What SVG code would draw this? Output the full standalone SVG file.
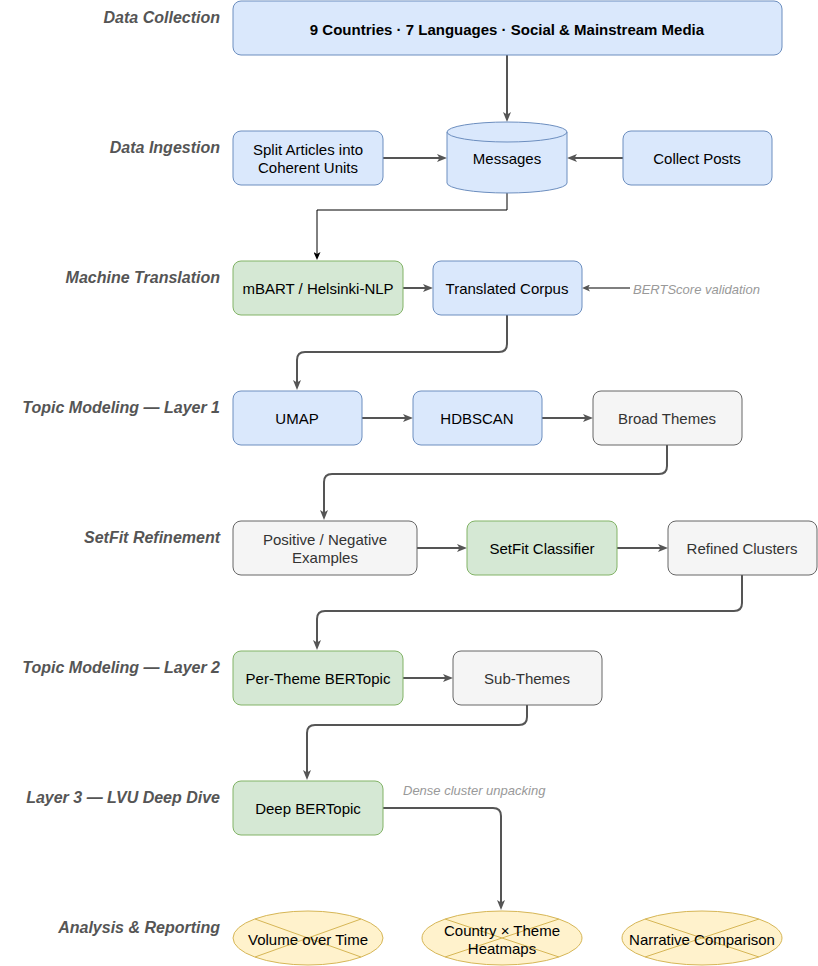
<svg xmlns="http://www.w3.org/2000/svg" width="818" height="966" viewBox="0 0 818 966">
<defs>
<style>
.lbl{font-family:"Liberation Sans",Arial,sans-serif;font-size:16px;font-weight:bold;font-style:italic;fill:#555;text-anchor:end;dominant-baseline:central}
.t{font-family:"Liberation Sans",Arial,sans-serif;font-size:15px;fill:#000;text-anchor:middle;dominant-baseline:central}
.tg{font-family:"Liberation Sans",Arial,sans-serif;font-size:15px;fill:#333;text-anchor:middle;dominant-baseline:central}
.note{font-family:"Liberation Sans",Arial,sans-serif;font-size:13px;font-style:italic;fill:#999;dominant-baseline:central}
.blue{fill:#dae8fc;stroke:#6c8ebf;stroke-width:1}
.green{fill:#d5e8d4;stroke:#82b366;stroke-width:1}
.gray{fill:#f5f5f5;stroke:#666;stroke-width:1}
.yel{fill:#fff2cc;stroke:#d6b656;stroke-width:1}
.c{fill:none;stroke:#555;stroke-width:2}
</style>
<marker id="a" markerUnits="userSpaceOnUse" viewBox="0 0 10 8" markerWidth="10" markerHeight="8" refX="4" refY="4" orient="auto">
<path d="M0,0 L10,4 L0,8 L2.5,4 Z" fill="#555"/>
</marker>
<marker id="b" markerUnits="userSpaceOnUse" viewBox="0 0 8 7" markerWidth="8" markerHeight="7" refX="3" refY="3.5" orient="auto">
<path d="M0,0 L8,3.5 L0,7 L2,3.5 Z" fill="#000"/>
</marker>
<marker id="s" markerUnits="userSpaceOnUse" viewBox="0 0 8 7" markerWidth="8" markerHeight="7" refX="3" refY="3.5" orient="auto">
<path d="M0,0 L8,3.5 L0,7 L2,3.5 Z" fill="#555"/>
</marker>
</defs>
<rect width="818" height="966" fill="#fff"/>

<g id="lanes">
<text class="lbl" x="220" y="17">Data Collection</text>
<text class="lbl" x="220" y="147">Data Ingestion</text>
<text class="lbl" x="220" y="277">Machine Translation</text>
<text class="lbl" x="220" y="407">Topic Modeling — Layer 1</text>
<text class="lbl" x="220" y="537">SetFit Refinement</text>
<text class="lbl" x="220" y="667">Topic Modeling — Layer 2</text>
<text class="lbl" x="220" y="797">Layer 3 — LVU Deep Dive</text>
<text class="lbl" x="220" y="927">Analysis &amp; Reporting</text>
</g>

<g id="connectors">
<path class="c" d="M507,55 V116" marker-end="url(#a)"/>
<path class="c" d="M383,158 H441" marker-end="url(#a)"/>
<path class="c" d="M623,158 H573" marker-end="url(#a)"/>
<path d="M507,193 V210 H317 V255" fill="none" stroke="#000" stroke-width="1" marker-end="url(#b)"/>
<path class="c" d="M403,288 H427" marker-end="url(#a)"/>
<path d="M630,288 H587" fill="none" stroke="#555" stroke-width="1.5" marker-end="url(#s)"/>
<path class="c" d="M507,315 V344 Q507,352 499,352 H305 Q297,352 297,360 V384" marker-end="url(#a)"/>
<path class="c" d="M362,418 H407" marker-end="url(#a)"/>
<path class="c" d="M542,418 H587" marker-end="url(#a)"/>
<path class="c" d="M667,445 V466 Q667,474 659,474 H332 Q324,474 324,482 V514" marker-end="url(#a)"/>
<path class="c" d="M417,548 H461" marker-end="url(#a)"/>
<path class="c" d="M617,548 H662" marker-end="url(#a)"/>
<path class="c" d="M742,575 V603 Q742,611 734,611 H325 Q317,611 317,619 V644" marker-end="url(#a)"/>
<path class="c" d="M403,678 H447" marker-end="url(#a)"/>
<path class="c" d="M527,705 V717 Q527,725 519,725 H315 Q307,725 307,733 V774" marker-end="url(#a)"/>
<path class="c" d="M383,808 H493 Q501,808 501,816 V904" marker-end="url(#a)"/>
</g>

<g id="n-collection">
<rect class="blue" x="233" y="1" width="549" height="54" rx="8"/>
<text class="t" x="507" y="29" font-weight="bold">9 Countries · 7 Languages · Social &amp; Mainstream Media</text>
</g>
<g id="n-split">
<rect class="blue" x="233" y="131" width="150" height="54" rx="8"/>
<text class="t" x="308" y="149">Split Articles into</text>
<text class="t" x="308" y="167">Coherent Units</text>
</g>
<g id="n-messages">
<path class="blue" d="M447,132 A60,10 0 0 1 567,132 V183 A60,10 0 0 1 447,183 Z"/>
<path d="M447,132 A60,10 0 0 0 567,132" fill="none" stroke="#6c8ebf"/>
<text class="t" x="507" y="158">Messages</text>
</g>
<g id="n-collect">
<rect class="blue" x="623" y="131" width="149" height="54" rx="8"/>
<text class="t" x="697" y="158">Collect Posts</text>
</g>
<g id="n-mbart">
<rect class="green" x="233" y="261" width="170" height="54" rx="8"/>
<text class="t" x="318" y="288">mBART / Helsinki-NLP</text>
</g>
<g id="n-translated">
<rect class="blue" x="433" y="261" width="149" height="54" rx="8"/>
<text class="t" x="507" y="288">Translated Corpus</text>
</g>
<g id="n-bertscore">
<text class="note" x="633" y="289">BERTScore validation</text>
</g>
<g id="n-umap">
<rect class="blue" x="233" y="391" width="129" height="54" rx="8"/>
<text class="t" x="297" y="418">UMAP</text>
</g>
<g id="n-hdbscan">
<rect class="blue" x="413" y="391" width="129" height="54" rx="8"/>
<text class="t" x="477" y="418">HDBSCAN</text>
</g>
<g id="n-broad">
<rect class="gray" x="593" y="391" width="149" height="54" rx="8"/>
<text class="tg" x="667" y="418">Broad Themes</text>
</g>
<g id="n-posneg">
<rect class="gray" x="233" y="521" width="184" height="54" rx="8"/>
<text class="tg" x="325" y="539">Positive / Negative</text>
<text class="tg" x="325" y="557">Examples</text>
</g>
<g id="n-setfit">
<rect class="green" x="467" y="521" width="150" height="54" rx="8"/>
<text class="t" x="542" y="548">SetFit Classifier</text>
</g>
<g id="n-refined">
<rect class="gray" x="668" y="521" width="149" height="54" rx="8"/>
<text class="tg" x="742" y="548">Refined Clusters</text>
</g>
<g id="n-pertheme">
<rect class="green" x="233" y="651" width="170" height="54" rx="8"/>
<text class="t" x="318" y="678">Per-Theme BERTopic</text>
</g>
<g id="n-sub">
<rect class="gray" x="453" y="651" width="149" height="54" rx="8"/>
<text class="tg" x="527" y="678">Sub-Themes</text>
</g>
<g id="n-deep">
<rect class="green" x="233" y="781" width="150" height="54" rx="8"/>
<text class="t" x="308" y="808">Deep BERTopic</text>
</g>
<g id="n-dense">
<text class="note" x="403" y="790">Dense cluster unpacking</text>
</g>
<g id="n-volume">
<ellipse class="yel" cx="308" cy="938" rx="75" ry="27"/>
<path d="M255,919 L361,957 M255,957 L361,919" stroke="#d6b656" fill="none"/>
<text class="t" x="308" y="939">Volume over Time</text>
</g>
<g id="n-heatmaps">
<ellipse class="yel" cx="502" cy="938" rx="80" ry="27"/>
<path d="M445,919 L559,957 M445,957 L559,919" stroke="#d6b656" fill="none"/>
<text class="t" x="502" y="930">Country × Theme</text>
<text class="t" x="502" y="948">Heatmaps</text>
</g>
<g id="n-narrative">
<ellipse class="yel" cx="702" cy="938" rx="80" ry="27"/>
<path d="M645,919 L759,957 M645,957 L759,919" stroke="#d6b656" fill="none"/>
<text class="t" x="702" y="939">Narrative Comparison</text>
</g>
</svg>
